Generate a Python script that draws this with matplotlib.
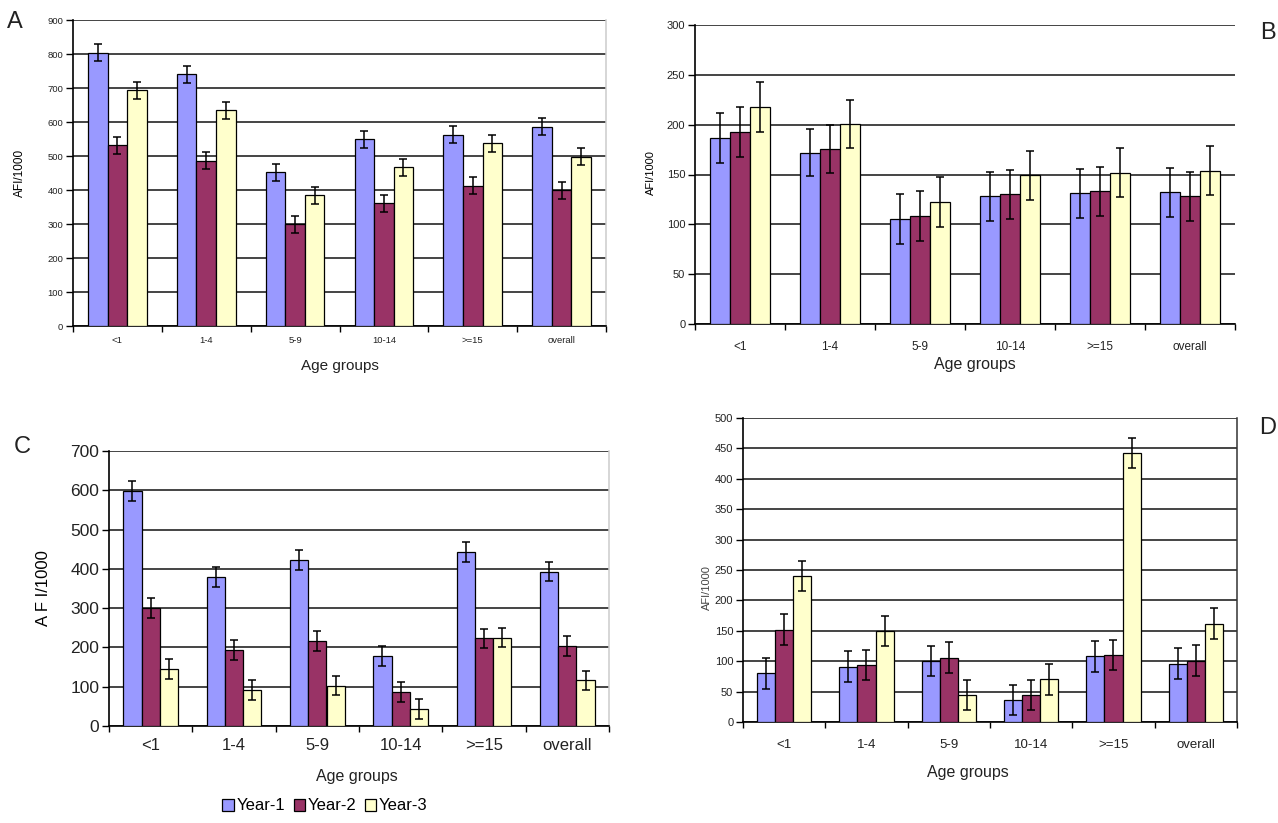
import matplotlib
matplotlib.use("Agg")
import matplotlib.pyplot as plt
import numpy as np

plt.rcParams['font.family'] = ['Liberation Sans', 'DejaVu Sans']

W, H = 1278, 823
categories = ["<1", "1-4", "5-9", "10-14", ">=15", "overall"]
series_names = ["Year-1", "Year-2", "Year-3"]
colors = ["#9999FF", "#993366", "#FFFFCC"]

# Panel A
a_year1 = [804, 740, 452, 549, 562, 586]
a_year2 = [532, 486, 299, 361, 412, 399]
a_year3 = [694, 635, 385, 467, 537, 498]
a_err = [25, 25, 25, 25, 25, 25]

# Panel B
b_year1 = [187, 172, 105, 128, 131, 132]
b_year2 = [193, 176, 108, 130, 133, 128]
b_year3 = [218, 201, 122, 149, 152, 154]
b_err = [25, 24, 25, 25, 25, 25]

# Panel C
c_year1 = [598, 379, 423, 178, 443, 393]
c_year2 = [301, 193, 217, 87, 223, 204]
c_year3 = [145, 92, 103, 44, 225, 116]
c_err = [25, 25, 25, 25, 25, 25]

# Panel D
d_year1 = [80, 91, 100, 36, 108, 96]
d_year2 = [152, 94, 106, 44, 110, 101]
d_year3 = [240, 150, 44, 70, 442, 162]
d_err = [25, 25, 25, 25, 25, 25]

fig = plt.figure(figsize=(W / 100, H / 100), dpi=100)


def rect(l, t, r, b):
    return [l / W, 1 - b / H, (r - l) / W, (b - t) / H]


def ftext(x, y, s, **kw):
    fig.text(x / W, 1 - y / H, s, **kw)


def panel(box, series, err, ymax, ystep, tick_fs, xt_fs, xpad, right_color):
    ax = fig.add_axes(rect(*box))
    n = len(categories)
    x = np.arange(n)
    w = 0.22
    bars = []
    for j, vals in enumerate(series):
        b = ax.bar(x + (j - 1) * w, vals, width=w, color=colors[j],
                   edgecolor="black", linewidth=0.9, zorder=3,
                   yerr=err, capsize=3.2,
                   error_kw=dict(ecolor="black", elinewidth=1.1, capthick=1.1, zorder=4))
        bars.append(b)
    ax.set_xlim(-0.5, n - 0.5)
    ax.set_ylim(0, ymax)
    ax.set_yticks(np.arange(0, ymax + ystep / 2, ystep))
    ax.yaxis.grid(True, color="#444444", linewidth=1.4, zorder=0)
    ax.set_axisbelow(True)
    ax.set_xticks(np.arange(-0.5, n, 1.0))
    ax.set_xticklabels([])
    ax.set_xticks(x, minor=True)
    ax.set_xticklabels(categories, minor=True, fontsize=xt_fs, color="#222222")
    ax.tick_params(axis="x", which="major", length=4, width=1, direction="out")
    ax.tick_params(axis="x", which="minor", length=0, pad=xpad)
    ax.tick_params(axis="y", length=5, width=1, direction="out", labelsize=tick_fs, pad=2,
                   labelcolor="#222222")
    for s in ["left", "bottom"]:
        ax.spines[s].set_color("black")
        ax.spines[s].set_linewidth(1.2)
    ax.spines["top"].set_visible(False)
    if right_color is None:
        ax.spines["right"].set_visible(False)
    else:
        ax.spines["right"].set_color(right_color)
        ax.spines["right"].set_linewidth(1.1)
    return ax, bars


# A
panel((73, 20, 606, 326), [a_year1, a_year2, a_year3], a_err, 900, 100, 6.8, 6.8, 7.5, "#cccccc")
ftext(15, 22, "A", fontsize=17, ha="center", va="center", color="#222222")
ftext(20, 173, "AFI/1000", fontsize=8.5, rotation=90, ha="center", va="center")
ftext(340, 366, "Age groups", fontsize=11, ha="center", va="center", color="#222222")

# B
panel((695, 25, 1235, 324), [b_year1, b_year2, b_year3], b_err, 300, 50, 8, 8.5, 12, None)
ftext(1268, 33, "B", fontsize=17, ha="center", va="center", color="#222222")
ftext(651, 173, "AFI/1000", fontsize=8, rotation=90, ha="center", va="center")
ftext(975, 364, "Age groups", fontsize=11.5, ha="center", va="center", color="#222222")

# C
axc, bars_c = panel((109, 451, 609, 726), [c_year1, c_year2, c_year3], c_err, 700, 100, 12.5, 12, 9, "#cccccc")
ftext(22, 447, "C", fontsize=17, ha="center", va="center", color="#222222")
ftext(43, 588, "A F I/1000", fontsize=12, rotation=90, ha="center", va="center")
ftext(357, 777, "Age groups", fontsize=11.5, ha="center", va="center", color="#222222")
fig.legend([b[0] for b in bars_c], series_names, loc="center",
           bbox_to_anchor=(325 / W, 1 - 806 / H), ncol=3, frameon=False,
           fontsize=12, handlelength=0.7, handleheight=0.7, handletextpad=0.15,
           columnspacing=0.5, borderaxespad=0)

# D
panel((743, 418, 1237, 722), [d_year1, d_year2, d_year3], d_err, 500, 50, 8, 9.5, 12, "#333333")
ftext(1268, 428, "D", fontsize=17, ha="center", va="center", color="#222222")
ftext(707, 588, "AFI/1000", fontsize=8, rotation=90, ha="center", va="center", color="#444444")
ftext(968, 773, "Age groups", fontsize=11.5, ha="center", va="center", color="#222222")

fig.savefig("out.png", dpi=100, facecolor="white")
